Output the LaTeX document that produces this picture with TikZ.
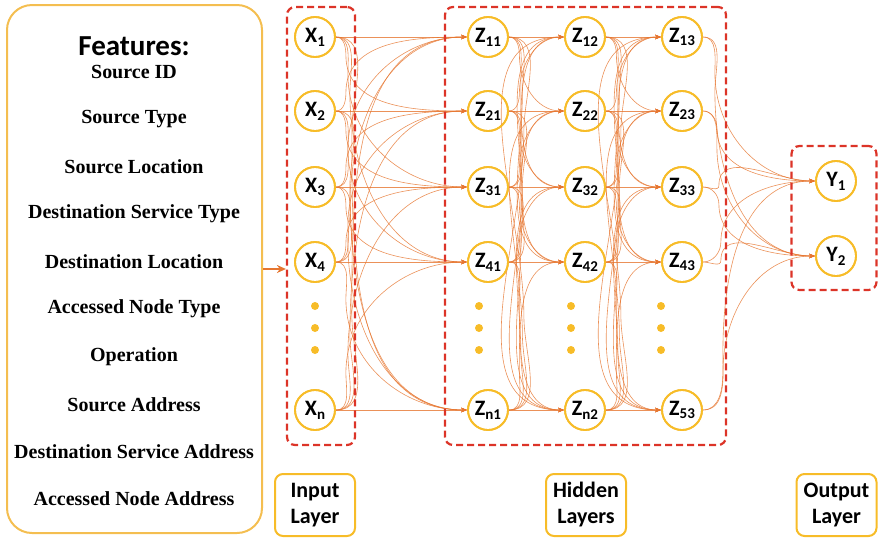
\documentclass[tikz,border=0pt]{standalone}
\usepackage{fontspec}
\setmainfont{Liberation Serif}
\newfontfamily\carl{Carlito}
\usetikzlibrary{arrows.meta,calc}
\definecolor{ylw}{RGB}{247,188,40}
\definecolor{fbox}{RGB}{244,190,80}
\definecolor{dred}{RGB}{220,52,40}
\definecolor{org}{RGB}{230,118,48}
\newcommand{\nsub}[2]{#1\raisebox{-0.35ex}{\fontsize{15}{15}\selectfont #2}}
% #1 source node, #2 target node, #3 horizontal offset (pt), #4 fraction
\newcommand{\nnedge}[4]{%
  \draw[conn] let \p1=(#1.east), \p2=(#2.west),
     \n1={-90*sign(\y2-\y1)}, \n2={90*sign(\y2-\y1)} in
     (\p1) to[out=0,in=\n1] ({\x1+#3pt},{\y1+#4*(\y2-\y1)})
           to[out=\n2,in=180] (\p2);}
\tikzset{
  neuron/.style={circle,draw=ylw,line width=1.8pt,fill=white,minimum size=40pt,inner sep=0pt,font=\carl\bfseries\fontsize{22}{22}\selectfont},
  conn/.style={draw=org,line width=0.6pt,draw opacity=0.8,-{Stealth[length=6pt,width=4.5pt]}},
  dbox/.style={draw=dred,line width=2.2pt,dash pattern=on 7pt off 4pt,rounded corners=8pt,inner sep=0pt},
  labbox/.style={draw=ylw,line width=2pt,rounded corners=8pt,align=center,inner sep=0pt,minimum width=80pt,minimum height=62pt,font=\carl\bfseries\fontsize{22}{26}\selectfont},
  featbox/.style={draw=fbox,line width=2pt,rounded corners=25pt,minimum width=255pt,minimum height=528pt,inner sep=0pt},
  feat/.style={font=\bfseries\fontsize{20}{20}\selectfont,inner sep=0pt},
  dotf/.style={fill=ylw}
}
\begin{document}
\begin{tikzpicture}[x=1pt,y=-1pt]
\useasboundingbox (0,0) rectangle (879,539);
% features box
\node[featbox] (feat) at (134.5,269) {};
\node[font=\carl\bfseries\fontsize{29}{29}\selectfont,inner sep=0pt] (fh) at (134,46) {Features:};
\node[feat] (f1) at (134,72) {Source ID};
\node[feat] (f2) at (134,119) {Source Type};
\node[feat] (f3) at (134,167) {Source Location};
\node[feat] (f4) at (134,214) {Destination Service Type};
\node[feat] (f5) at (134,262) {Destination Location};
\node[feat] (f6) at (134,309) {Accessed Node Type};
\node[feat] (f7) at (134,357) {Operation};
\node[feat] (f8) at (134,405) {Source Address};
\node[feat] (f9) at (134,452) {Destination Service Address};
\node[feat] (f10) at (134,499) {Accessed Node Address};
% neurons
\node[neuron] (a1) at (315,37) {\nsub{X}{1}};
\node[neuron] (a2) at (315,111) {\nsub{X}{2}};
\node[neuron] (a3) at (315,187) {\nsub{X}{3}};
\node[neuron] (a4) at (315,262) {\nsub{X}{4}};
\node[neuron] (a5) at (315,410) {\nsub{X}{n}};
\node[neuron] (b1) at (488,37) {\nsub{Z}{11}};
\node[neuron] (b2) at (488,111) {\nsub{Z}{21}};
\node[neuron] (b3) at (488,187) {\nsub{Z}{31}};
\node[neuron] (b4) at (488,262) {\nsub{Z}{41}};
\node[neuron] (b5) at (488,410) {\nsub{Z}{n1}};
\node[neuron] (c1) at (585,37) {\nsub{Z}{12}};
\node[neuron] (c2) at (585,111) {\nsub{Z}{22}};
\node[neuron] (c3) at (585,187) {\nsub{Z}{32}};
\node[neuron] (c4) at (585,262) {\nsub{Z}{42}};
\node[neuron] (c5) at (585,410) {\nsub{Z}{n2}};
\node[neuron] (d1) at (682,37) {\nsub{Z}{13}};
\node[neuron] (d2) at (682,111) {\nsub{Z}{23}};
\node[neuron] (d3) at (682,187) {\nsub{Z}{33}};
\node[neuron] (d4) at (682,262) {\nsub{Z}{43}};
\node[neuron] (d5) at (682,410) {\nsub{Z}{53}};
\node[neuron] (y1) at (836,181) {\nsub{Y}{1}};
\node[neuron] (y2) at (836,256) {\nsub{Y}{2}};
% connections
\foreach \s in {1,...,5}{\foreach \t in {1,...,5}{
  \ifnum\s=\t
    \draw[conn] (a\s.east) -- (b\t.west);
    \draw[conn] (b\s.east) -- (c\t.west);
    \draw[conn] (c\s.east) -- (d\t.west);
  \else
    \pgfmathsetmacro{\off}{8+2*abs(\t-\s)}
    \nnedge{a\s}{b\t}{\off}{0.25}
    \pgfmathsetmacro{\offh}{9+1.5*abs(\t-\s)}
    \nnedge{b\s}{c\t}{\offh}{0.25}
    \nnedge{c\s}{d\t}{\offh}{0.25}
  \fi
}}
\foreach \s in {1,...,5}{\foreach \t in {1,2}{
  \pgfmathsetmacro{\offo}{10+2*\s}
  \nnedge{d\s}{y\t}{\offo}{0.25}
}}
% redraw neuron rims on top
\foreach \n in {a1,a2,a3,a4,a5,b1,b2,b3,b4,b5,c1,c2,c3,c4,c5,d1,d2,d3,d4,d5,y1,y2}{
  \draw[draw=ylw,line width=1.8pt] (\n.center) circle (20pt);
}
% dots
\foreach \xx in {315,479,571,661}{
  \foreach \yy in {306,328,350}{
    \fill[dotf] (\xx,\yy) circle (4pt);
  }
}
% dashed boxes
\node[dbox,minimum width=68pt,minimum height=438pt] (inbox) at (321,226) {};
\node[dbox,minimum width=281pt,minimum height=438pt] (hidbox) at (585.5,226) {};
\node[dbox,minimum width=85pt,minimum height=144pt] (outbox) at (834,218) {};
% main arrow
\draw[draw=org,line width=2pt,-{Stealth[length=9pt,width=8pt]}] (feat.east) -- (feat.east -| inbox.west);
% labels
\node[labbox] (lin) at (315,505) {Input\\Layer};
\node[labbox] (lhid) at (586,505) {Hidden\\Layers};
\node[labbox] (lout) at (836.5,505) {Output\\Layer};
\end{tikzpicture}
\end{document}
